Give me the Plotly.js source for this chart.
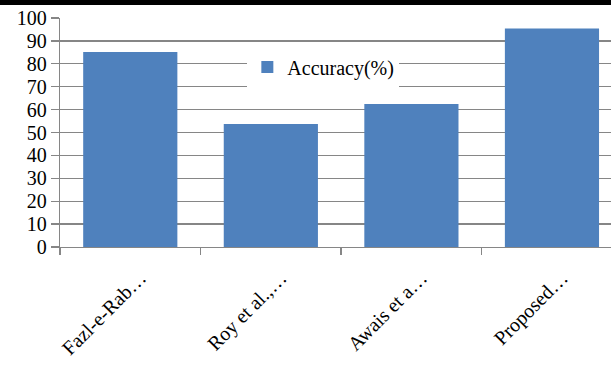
<!DOCTYPE html>
<html>
<head>
<meta charset="utf-8">
<script src="https://cdn.plot.ly/plotly-3.0.1.min.js"></script>
</head>
<body style="margin:0">
<div id="chart"></div>
<script>
const categories = ["Fazl-e-Rab…", "Roy et al.,…", "Awais et a…", "Proposed…"];
const accuracy = [85.1, 53.7, 62.4, 95.4];
const seriesName = "Accuracy(%)";
const yTicks = [0, 10, 20, 30, 40, 50, 60, 70, 80, 90, 100];

Plotly.newPlot('chart', [{
  type: 'bar',
  x: categories,
  y: accuracy,
  name: seriesName,
  marker: { color: '#4F81BD' },
  showlegend: true
}], {
  width: 611,
  height: 365,
  margin: { l: 60, r: 0, t: 18, b: 118, pad: 0 },
  font: { family: 'Liberation Serif', size: 20 },
  bargap: 0.33,
  showlegend: true,
  legend: {
    x: 0.34, xanchor: 'left',
    y: 0.786, yanchor: 'middle',
    bgcolor: '#ffffff',
    borderwidth: 0
  },
  shapes: [{
    type: 'rect', xref: 'paper', yref: 'paper',
    x0: -0.12, x1: 1.01, y0: 1.0568, y1: 1.09,
    fillcolor: '#000000', line: { width: 0 }, layer: 'above'
  }],
  xaxis: {
    type: 'category',
    range: [-0.5, 3.42],
    tickson: 'boundaries',
    ticks: 'outside',
    ticklen: 7,
    tickwidth: 1.3,
    tickcolor: '#868686',
    tickangle: -45,
    ticklabelstandoff: 10,
    ticklabelshift: 10,
    showline: true,
    linecolor: '#868686',
    linewidth: 1.3,
    showgrid: false,
    zeroline: false
  },
  yaxis: {
    range: [0, 100],
    tickvals: yTicks,
    ticks: 'outside',
    ticklen: 8,
    tickwidth: 1.3,
    tickcolor: '#868686',
    showline: true,
    linecolor: '#868686',
    linewidth: 1.3,
    showgrid: true,
    gridcolor: '#868686',
    gridwidth: 1.3,
    zeroline: false
  }
}, { staticPlot: true }).then(gd => {
  gd.querySelectorAll('text').forEach(t => { t.style.fill = '#000000'; });
});
</script>
</body>
</html>
